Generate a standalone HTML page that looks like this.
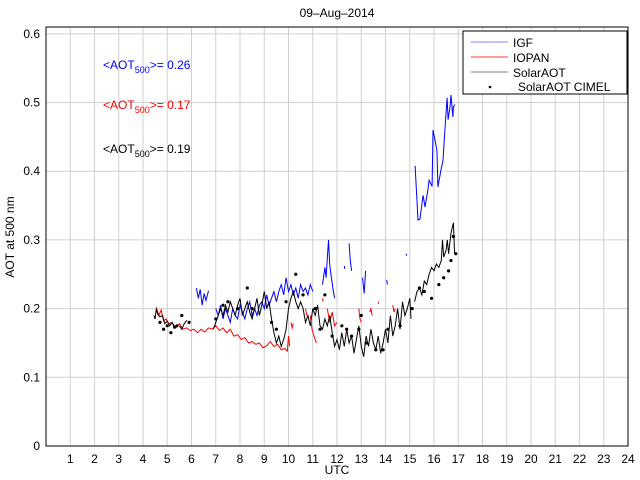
<!DOCTYPE html>
<html><head><meta charset="utf-8"><style>
body{margin:0;background:#fff}
svg{display:block;font-family:"Liberation Sans",sans-serif}
</style></head><body>
<svg id="c" width="640" height="480"></svg>
<script>
const xTicks=[1,2,3,4,5,6,7,8,9,10,11,12,13,14,15,16,17,18,19,20,21,22,23,24];
const yTicks=[0,0.1,0.2,0.3,0.4,0.5,0.6];
const igf=[[6.2,.23],[6.28,.215],[6.36,.228],[6.44,.205],[6.52,.222],[6.6,.212],[6.7,.226],null,
[7.0,.2],[7.1,.19],[7.2,.205],[7.3,.185],[7.4,.2],[7.5,.19],[7.6,.18],[7.7,.2],[7.8,.19],[7.9,.185],[8.0,.205],[8.1,.195],[8.2,.185],[8.3,.2],[8.4,.21],[8.5,.19],[8.6,.2],[8.7,.19],[8.8,.205],[8.9,.21],[9.0,.2],[9.1,.22],[9.2,.205],[9.3,.215],[9.4,.225],[9.5,.21],[9.6,.225],[9.7,.235],[9.8,.22],[9.9,.245],[10.0,.225],[10.1,.235],[10.2,.22],[10.3,.23],[10.4,.215],[10.5,.235],[10.6,.225],[10.7,.23],[10.8,.22],[10.9,.235],[11.0,.225],null,
[11.4,.235],[11.5,.26],[11.55,.245],[11.65,.3],[11.7,.265],[11.75,.25],[11.85,.225],[11.9,.215],null,
[12.3,.262],[12.32,.258],null,[12.5,.295],[12.55,.27],[12.6,.255],null,[13.05,.245],[13.12,.222],[13.18,.255],null,[14.05,.242],[14.08,.235],null,[14.85,.28],[14.87,.277],null,
[15.22,.408],[15.34,.329],[15.42,.33],[15.55,.365],[15.63,.348],[15.75,.373],[15.8,.387],[15.92,.378],[15.96,.46],[16.12,.431],[16.16,.377],[16.29,.402],[16.37,.416],[16.45,.46],[16.54,.507],[16.58,.475],[16.66,.494],[16.7,.511],[16.78,.479],[16.8,.494],[16.87,.497]];
const iopan=[[4.55,.202],[4.65,.19],[4.75,.198],[4.85,.182],[4.95,.185],[5.05,.178],[5.2,.18],[5.35,.172],[5.5,.178],[5.65,.17],[5.8,.172],[5.95,.168],[6.1,.17],[6.25,.165],[6.4,.17],[6.55,.166],[6.7,.172],[6.85,.17],[7.0,.175],[7.15,.168],[7.3,.172],[7.45,.165],[7.6,.17],[7.75,.16],[7.9,.162],[8.05,.155],[8.2,.158],[8.35,.15],[8.5,.152],[8.65,.148],[8.8,.15],[8.95,.143],[9.1,.146],[9.25,.152],[9.4,.145],[9.55,.148],[9.7,.14],[9.85,.142],[9.95,.138],[10.0,.16],[10.05,.145],null,
[10.1,.18],[10.15,.172],[10.2,.178],null,[10.7,.2],[10.75,.19],null,[10.9,.19],[10.97,.17],[11.05,.16],[11.15,.15],null,[11.4,.215],[11.43,.21],null,[11.6,.2],[11.7,.18],[11.8,.195],[11.9,.175],[12.0,.18],null,
[12.9,.2],[12.95,.185],[13.0,.18],null,[13.35,.195],[13.4,.2],[13.45,.19],null,[13.7,.21],[13.72,.207],null,[14.3,.205],[14.35,.195],[14.4,.2]];
const solar=[[4.45,.19],[4.5,.185],[4.55,.2],[4.6,.192],[4.7,.188],[4.8,.19],[4.9,.178],[5.0,.182],[5.1,.175],[5.2,.18],[5.3,.172],null,[5.5,.175],[5.6,.17],[5.7,.178],[5.8,.183],null,
[6.9,.17],[7.0,.18],[7.1,.19],[7.2,.2],[7.3,.19],[7.4,.205],[7.5,.195],[7.6,.21],[7.7,.2],[7.8,.19],[7.9,.205],[8.0,.215],[8.1,.19],[8.2,.2],[8.3,.21],[8.4,.195],[8.5,.185],[8.6,.2],[8.7,.215],[8.8,.19],[8.9,.205],[9.0,.225],[9.1,.2],[9.2,.21],[9.3,.185],[9.4,.165],[9.5,.15],[9.6,.16],[9.7,.145],[9.8,.155],[9.9,.17],[10.0,.2],[10.1,.215],[10.2,.225],[10.3,.21],[10.4,.2],[10.5,.21],[10.6,.2],[10.7,.18],[10.8,.19],[10.9,.175],[11.0,.2],[11.1,.19],[11.2,.205],[11.3,.175],[11.4,.17],[11.5,.185],[11.6,.175],[11.7,.19],[11.8,.165],[11.9,.145],[12.0,.155],[12.1,.14],[12.2,.165],[12.3,.145],[12.4,.17],[12.5,.15],[12.6,.16],[12.7,.135],[12.8,.155],[12.9,.175],[13.0,.145],[13.1,.13],[13.2,.16],[13.3,.145],[13.4,.17],[13.5,.15],[13.6,.14],[13.7,.16],[13.8,.135],[13.9,.15],[14.0,.17],[14.1,.15],[14.2,.19],[14.3,.16],[14.4,.175],[14.5,.2],[14.6,.17],[14.7,.21],[14.8,.19],[14.9,.2],[15.0,.215],[15.05,.185],null,
[15.2,.21],[15.3,.225],[15.4,.23],[15.5,.22],[15.6,.24],[15.7,.235],[15.8,.25],[15.9,.26],[16.0,.255],[16.1,.265],[16.2,.26],[16.3,.27],[16.35,.3],[16.4,.275],[16.5,.285],[16.55,.3],[16.6,.28],[16.7,.31],[16.8,.325],[16.85,.28]];
const cimel=[[4.7,.18],[4.85,.17],[5.0,.175],[5.15,.165],[5.3,.173],[5.4,.175],[5.6,.19],[5.9,.18],[7.0,.185],[7.3,.205],[7.5,.21],[7.9,.2],[8.3,.23],[8.5,.2],[9.3,.18],[9.5,.17],[9.9,.21],[10.3,.25],[10.6,.22],[11.1,.2],[11.3,.17],[11.5,.22],[11.8,.16],[12.2,.175],[12.4,.17],[12.6,.16],[12.9,.17],[13.0,.19],[13.2,.15],[13.6,.14],[13.9,.14],[14.1,.17],[14.6,.175],[15.1,.2],[15.4,.23],[15.6,.225],[15.9,.215],[16.2,.235],[16.4,.245],[16.6,.255],[16.7,.27],[16.8,.305],[16.9,.28]];

const L=46,R=628,T=27,B=446;
const X=t=>L+t/24*(R-L), Y=v=>B-v/0.61*(B-T);
const s=document.getElementById('c'),NS='http://www.w3.org/2000/svg';
function mk(tag,a,txt){const e=document.createElementNS(NS,tag);for(const k in a)e.setAttribute(k,a[k]);if(txt!=null)e.textContent=txt;s.appendChild(e);return e;}
let e;
e=mk('rect',{x:L,y:T,width:R-L,height:B-T,fill:'#fff',stroke:'none'});


xTicks.forEach(t=>{
 e=mk('line',{x1:X(t),x2:X(t),y1:T,y2:B,stroke:'#d0d0d0','stroke-width':1});
 
 
 e=mk('text',{x:X(t),y:B+17,'text-anchor':'middle','font-size':12},t);
 
 
});
yTicks.forEach(v=>{
 e=mk('line',{x1:L,x2:R,y1:Y(v),y2:Y(v),stroke:'#d0d0d0','stroke-width':1});
 
 
 e=mk('text',{x:L-6,y:Y(v)+4,'text-anchor':'end','font-size':12},v===0?'0':v.toFixed(1));
 
 
});
e=mk('rect',{x:L,y:T,width:R-L,height:B-T,fill:'none',stroke:'#000','stroke-width':1});


function path(d,col,name){
 let p='',pen=false;
 d.forEach(q=>{if(!q){pen=false;return;}p+=(pen?'L':'M')+X(q[0]).toFixed(1)+' '+Y(q[1]).toFixed(1);pen=true;});
 e=mk('path',{d:p,fill:'none',stroke:col,'stroke-width':1});
 
 
}
path(iopan,'#f00','iopan-series');
path(igf,'#00f','igf-series');
path(solar,'#000','solaraot-series');
cimel.forEach(q=>{
 e=mk('circle',{cx:X(q[0]),cy:Y(q[1]),r:1.6,fill:'#000'});
 
 
});
e=mk('text',{x:337,y:17,'text-anchor':'middle','font-size':12},'09\u2013Aug\u20132014');


e=mk('text',{x:337,y:474,'text-anchor':'middle','font-size':12},'UTC');


e=mk('text',{x:14,y:237,'text-anchor':'middle','font-size':12,transform:'rotate(-90 14 237)'},'AOT at 500 nm');


[['#00f',69,'0.26'],['#f00',109,'0.17'],['#000',153,'0.19']].forEach(a=>{
 e=mk('text',{x:103,y:a[1],'font-size':12,fill:a[0]});
 e.innerHTML='&lt;AOT<tspan font-size="9" dy="4">500</tspan><tspan dy="-4">&gt;= '+a[2]+'</tspan>';
 
 
});
e=mk('rect',{x:463,y:31,width:164,height:63,fill:'#fff',stroke:'#000'});


[['#aab0ff','IGF',42],['#ff8080','IOPAN',57],['#aaaaaa','SolarAOT',72]].forEach(a=>{
 e=mk('line',{x1:471,x2:508,y1:a[2],y2:a[2],stroke:a[0],'stroke-width':1.5});
 
 
 e=mk('text',{x:513,y:a[2]+5,'font-size':12},a[1]);
 
 
});
e=mk('circle',{cx:490,cy:87,r:1.3,fill:'#000'});


e=mk('text',{x:518,y:91,'font-size':12},'SolarAOT CIMEL');


</script>
</body></html>
